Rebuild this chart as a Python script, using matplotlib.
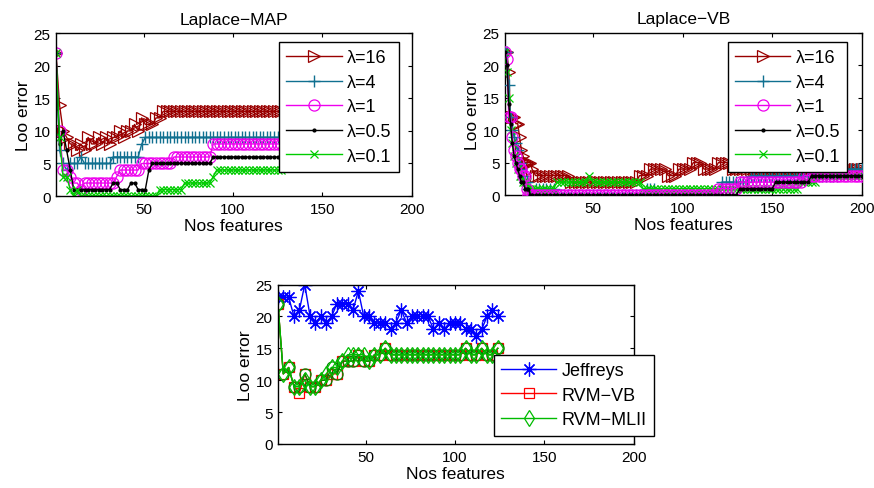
import matplotlib
matplotlib.use('Agg')
import matplotlib.pyplot as plt

plt.rcParams['font.family'] = ['Liberation Sans', 'DejaVu Sans']

# ---- data ----
lambda_labels = ['λ=16', 'λ=4', 'λ=1', 'λ=0.5', 'λ=0.1']

# Laplace-MAP, every 2nd feature count
x_map = list(range(1, 128, 2))
map_16 = [22, 14, 10, 9, 8, 8, 7, 8, 7, 9,
          8, 8, 9, 8, 9, 8, 9, 9, 10, 9,
          10, 10, 11, 10, 12, 11, 11, 11, 12, 12,
          13, 13, 13, 13, 13, 13, 13, 13, 13, 13,
          13, 13, 13, 13, 13, 13, 13, 13, 13, 13,
          13, 13, 13, 13, 13, 13, 13, 13, 13, 13,
          13, 13, 13, 13]
map_4 = [22, 7, 5, 4, 5, 5, 5, 6, 5, 5,
         5, 5, 5, 5, 5, 5, 6, 6, 6, 6,
         6, 6, 6, 6, 8, 9, 9, 9, 9, 9,
         9, 9, 9, 9, 9, 9, 9, 9, 9, 9,
         9, 9, 9, 9, 9, 9, 9, 9, 9, 9,
         9, 9, 9, 9, 9, 9, 9, 9, 9, 9,
         9, 9, 9, 9]
map_1 = [22, 10, 4, 4, 3, 2, 2, 1, 2, 2,
         2, 2, 2, 2, 2, 2, 2, 3, 4, 4,
         4, 4, 4, 4, 5, 5, 5, 5, 5, 5,
         5, 5, 5, 6, 6, 6, 6, 6, 6, 6,
         6, 6, 6, 6, 8, 8, 8, 8, 8, 8,
         8, 8, 8, 8, 8, 8, 8, 8, 8, 8,
         8, 8, 8, 8]
map_05 = [22, 8, 10, 7, 4, 1, 1, 1, 1, 1,
          1, 1, 1, 1, 1, 1, 2, 2, 1, 1,
          1, 2, 2, 1, 1, 1, 4, 5, 5, 5,
          5, 5, 5, 5, 5, 5, 5, 5, 5, 5,
          5, 5, 5, 5, 6, 6, 6, 6, 6, 6,
          6, 6, 6, 6, 6, 6, 6, 6, 6, 6,
          6, 6, 6, 6]
map_01 = [22, 9, 3, 3, 1, 0, 1, 0, 0, 0,
          0, 0, 0, 0, 0, 0, 0, 0, 0, 0,
          0, 0, 0, 0, 0, 0, 0, 0, 0, 1,
          1, 1, 1, 1, 1, 1, 2, 2, 2, 2,
          2, 2, 2, 2, 3, 4, 4, 4, 4, 4,
          4, 4, 4, 4, 4, 4, 4, 4, 4, 4,
          4, 4, 4, 4]

# Laplace-VB, every feature count up to 16, then every 2nd
x_vb = list(range(1, 17)) + list(range(18, 201, 2))
vb_16 = [22, 22, 19, 12, 12, 12, 11, 11, 9, 7, 6, 5, 5, 5, 5, 4,
         3, 3, 3, 3, 3, 3, 3, 3, 3, 3,
         2, 2, 2, 2, 2, 2, 2, 2, 2, 2,
         2, 2, 2, 2, 2, 2, 2, 2, 2, 3,
         3, 3, 4, 4, 4, 4, 4, 3, 3, 3,
         4, 4, 4, 4, 5, 5, 5, 4, 4, 4,
         4, 5, 5, 5, 5, 4, 4, 4, 4, 4,
         4, 4, 4, 4, 4, 4, 4, 4, 4, 4,
         4, 4, 4, 4, 4, 4, 4, 4, 4, 4,
         4, 4, 4, 4, 4, 4, 4, 4, 4, 4,
         4, 4]
vb_4 = [22, 22, 17, 12, 10, 9, 8, 7, 5, 4, 3, 2, 2, 1, 1, 0,
        1, 1, 1, 1, 1, 1, 0, 0, 0, 0,
        0, 0, 0, 0, 0, 0, 0, 0, 0, 0,
        0, 0, 0, 0, 0, 0, 0, 0, 0, 0,
        0, 1, 1, 1, 0, 0, 0, 0, 0, 0,
        0, 0, 0, 0, 0, 0, 0, 0, 0, 0,
        0, 0, 2, 2, 2, 2, 2, 2, 2, 2,
        3, 3, 3, 3, 3, 3, 3, 3, 3, 3,
        3, 3, 3, 3, 3, 3, 3, 3, 3, 3,
        3, 3, 3, 3, 3, 4, 4, 4, 4, 4,
        4, 4]
vb_1 = [22, 21, 12, 12, 9, 7, 6, 5, 4, 4, 3, 3, 1, 0, 0, 0,
        0, 0, 0, 0, 0, 0, 0, 0, 0, 0,
        0, 0, 0, 0, 0, 0, 0, 0, 0, 0,
        0, 0, 0, 0, 0, 0, 0, 0, 0, 0,
        0, 0, 0, 0, 0, 0, 0, 0, 0, 0,
        0, 0, 0, 0, 0, 0, 0, 0, 0, 0,
        0, 1, 1, 1, 1, 1, 1, 2, 2, 2,
        2, 2, 2, 2, 2, 2, 2, 2, 2, 2,
        2, 2, 2, 2, 2, 3, 3, 3, 3, 3,
        3, 3, 3, 3, 3, 3, 3, 3, 3, 3,
        3, 3]
vb_05 = [22, 20, 14, 11, 8, 6, 5, 4, 3, 2, 2, 1, 1, 1, 0, 0,
         0, 0, 0, 0, 0, 0, 0, 0, 0, 0,
         0, 0, 0, 0, 0, 0, 0, 0, 0, 0,
         0, 0, 0, 0, 0, 0, 0, 0, 0, 0,
         0, 0, 0, 0, 0, 0, 0, 0, 0, 0,
         0, 0, 0, 0, 0, 0, 0, 0, 0, 0,
         0, 0, 0, 0, 0, 0, 0, 1, 1, 1,
         1, 1, 1, 1, 1, 1, 1, 2, 2, 2,
         2, 2, 2, 2, 2, 2, 2, 3, 3, 3,
         3, 3, 3, 3, 3, 3, 3, 3, 3, 3,
         3, 3]
vb_01 = [22, 19, 15, 10, 8, 6, 5, 4, 3, 3, 2, 2, 2, 1, 1, 1,
         1, 1, 1, 1, 1, 1, 2, 2, 2, 2,
         2, 2, 2, 2, 2, 3, 2, 2, 2, 2,
         2, 2, 2, 2, 2, 2, 2, 2, 2, 2,
         1, 1, 1, 1, 1, 1, 1, 1, 1, 1,
         1, 1, 1, 1, 1, 1, 1, 1, 1, 1,
         1, 1, 1, 1, 1, 1, 1, 1, 1, 1,
         1, 1, 1, 1, 1, 1, 1, 1, 1, 1,
         1, 1, 1, 1, 2, 2, 2, 2, 2, 3,
         3, 3, 3, 3, 3, 3, 3, 3, 3, 3,
         3, 3]

# bottom panel, every 3rd feature count
x_rvm = list(range(1, 125, 3))
jeffreys = [23, 23, 23, 20, 21, 25, 20, 19, 20, 19,
            20, 22, 22, 22, 21, 24, 20, 20, 19, 19,
            19, 18, 19, 21, 19, 20, 20, 20, 20, 18,
            19, 18, 19, 19, 19, 18, 18, 17, 18, 20,
            21, 20]
rvm_vb = [22, 11, 12, 9, 8, 11, 9, 9, 10, 10,
          11, 11, 13, 13, 13, 14, 13, 13, 14, 14,
          15, 14, 14, 14, 14, 14, 14, 14, 14, 14,
          14, 14, 14, 14, 14, 15, 14, 14, 15, 14,
          14, 15]
rvm_mlii = [22, 11, 12, 9, 9, 10, 9, 9, 10, 11,
            12, 12, 13, 14, 14, 14, 14, 13, 14, 14,
            15, 14, 14, 14, 14, 14, 14, 14, 14, 14,
            14, 14, 14, 14, 14, 15, 14, 14, 15, 14,
            14, 15]
rvm_circ = [22, 11, 12, 9, 9, 11, 9, 9, 10, 10,
            12, 11, 13, 13, 13, 14, 13, 13, 14, 14,
            15, 14, 14, 14, 14, 14, 14, 14, 14, 14,
            14, 14, 14, 14, 14, 15, 14, 14, 15, 14,
            14, 15]

# ---- styles ----
lam_styles = [
    dict(color='#990000', marker='>', ms=8, mfc='none', mew=0.9),
    dict(color='#107090', marker='+', ms=9, mew=1.0),
    dict(color='#ee00ee', marker='o', ms=8, mfc='none', mew=0.9),
    dict(color='black', marker='.', ms=4),
    dict(color='#00cc00', marker='x', ms=6, mew=0.9),
]


def style_ax(ax, title=None):
    ax.set_xlim(1, 200)
    ax.set_ylim(0, 25)
    ax.set_xticks([50, 100, 150, 200])
    ax.set_yticks([0, 5, 10, 15, 20, 25])
    ax.tick_params(direction='in', top=True, right=True, length=3, labelsize=11, pad=4)
    for s in ax.spines.values():
        s.set_linewidth(1.0)
    ax.set_xlabel('Nos features', fontsize=12.5, labelpad=2)
    ax.set_ylabel('Loo error', fontsize=12.5, labelpad=2)
    if title:
        ax.set_title(title, fontsize=12.5, pad=7)


def lam_legend(ax, anchor):
    leg = ax.legend(loc='upper left', bbox_to_anchor=anchor, bbox_transform=fig.transFigure,
                    fontsize=13, numpoints=1, handlelength=3.05, handletextpad=0.3,
                    labelspacing=0.42, borderpad=0.4, borderaxespad=0,
                    fancybox=False, framealpha=1, edgecolor='black')
    leg.get_frame().set_linewidth(1.0)
    return leg


fig = plt.figure(figsize=(8.74, 4.89), dpi=100)

# Laplace-MAP
ax1 = fig.add_axes([0.064, 0.597, 0.407, 0.333])
for ys, lab, st in zip([map_16, map_4, map_1, map_05, map_01], lambda_labels, lam_styles):
    ax1.plot(x_map, ys, lw=1.0, label=lab, **st)
style_ax(ax1, 'Laplace\u2212MAP')
lam_legend(ax1, (0.3195, 0.912))

# Laplace-VB
ax2 = fig.add_axes([0.578, 0.599, 0.408, 0.332])
zs = [2, 3, 5, 6, 4]
for ys, lab, st, z in zip([vb_16, vb_4, vb_1, vb_05, vb_01], lambda_labels, lam_styles, zs):
    ax2.plot(x_vb, ys, lw=1.0, label=lab, zorder=z, **st)
style_ax(ax2, 'Laplace\u2212VB')
lam_legend(ax2, (0.833, 0.912))

# Jeffreys / RVM
ax3 = fig.add_axes([0.318, 0.09, 0.407, 0.326])
ax3.plot(x_rvm, jeffreys, color='#0000ff', lw=1.0, marker=(8, 2, 0), ms=10, mew=0.9, label='Jeffreys')
ax3.plot(x_rvm, rvm_vb, color='#ff0000', lw=1.0, marker='s', ms=7, mfc='none', mew=0.9, label='RVM\u2212VB')
ax3.plot(x_rvm, rvm_circ, color='#008800', lw=1.0, marker='o', ms=8, mfc='none', mew=0.9)
ax3.plot(x_rvm, rvm_mlii, color='#00bb00', lw=1.0, marker='d', ms=8, mfc='none', mew=0.9, label='RVM\u2212MLII')
style_ax(ax3)
lam_legend(ax3, (0.5652, 0.272))

fig.savefig('out.png', dpi=100)
